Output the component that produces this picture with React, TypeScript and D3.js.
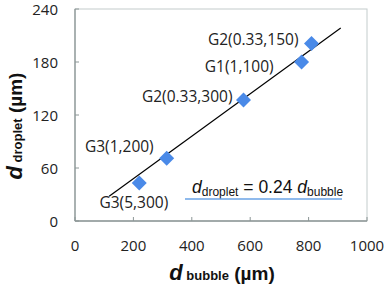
import React from "react";
import * as d3 from "d3";

const labels = ["G2(0.33,150)", "G1(1,100)", "G2(0.33,300)", "G3(1,200)", "G3(5,300)"];
const bubble = [810, 776, 577, 314, 220];
const droplet = [201, 180, 137, 71, 43];
const xTicks = [0, 200, 400, 600, 800, 1000];
const yTicks = [0, 60, 120, 180, 240];
const fitSlope = 0.24;
const fitRange = [117, 910];

const W = 387, H = 287;
const M = { left: 75, right: 367, top: 9, bottom: 221 };

const labelPos: { dx: number; dy: number; anchor: string }[] = [
  { dx: -13, dy: 2, anchor: "end" },
  { dx: -28, dy: 10, anchor: "end" },
  { dx: -11, dy: 2, anchor: "end" },
  { dx: -13, dy: -6, anchor: "end" },
  { dx: 29, dy: 25, anchor: "end" },
];

export default function App() {
  const x = d3.scaleLinear().domain([0, 1000]).range([M.left, M.right]);
  const y = d3.scaleLinear().domain([0, 240]).range([M.bottom, M.top]);
  const line = d3.line<number>().x((d) => x(d)).y((d) => y(fitSlope * d));
  const font = "'Open Sans', sans-serif";
  const sans = "'Liberation Sans', Arial, sans-serif";
  const axisColor = "#8c9696";
  const blue = "#4a8ae8";
  const diamond = (cx: number, cy: number, r: number) =>
    `M${cx},${cy - r}L${cx + r},${cy}L${cx},${cy + r}L${cx - r},${cy}Z`;
  return (
    <div style={{ position: "fixed", left: 0, top: 0 }}>
      <svg width={W} height={H} style={{ display: "block", background: "#fff" }}>
        <rect x={M.left} y={M.top} width={M.right - M.left} height={M.bottom - M.top}
          fill="none" stroke="#c3cccc" strokeWidth={1} />
        <line x1={M.left} x2={M.right} y1={M.bottom} y2={M.bottom} stroke={axisColor} strokeWidth={1.3} />
        <line x1={M.left} x2={M.left} y1={M.top} y2={M.bottom} stroke={axisColor} strokeWidth={1.3} />
        {xTicks.map((t) => (
          <g key={"x" + t}>
            <line x1={x(t)} x2={x(t)} y1={M.bottom} y2={M.bottom - 4} stroke={axisColor} strokeWidth={1} />
            <text x={x(t)} y={251} textAnchor="middle" fontFamily={font} fontSize={15} fill="#222">{t}</text>
          </g>
        ))}
        {yTicks.map((t) => (
          <g key={"y" + t}>
            <line x1={M.left} x2={M.left + 4} y1={y(t)} y2={y(t)} stroke={axisColor} strokeWidth={1} />
            <text x={58} y={y(t) + 5.5} textAnchor="end" fontFamily={font} fontSize={15} fill="#222">{t}</text>
          </g>
        ))}
        <path d={line(fitRange) || ""} stroke="#000" strokeWidth={1.2} fill="none" />
        {bubble.map((b, i) => (
          <path key={"p" + i} d={diamond(x(b), y(droplet[i]), 7.5)} fill={blue} />
        ))}
        {bubble.map((b, i) => (
          <text key={"l" + i} x={x(b) + labelPos[i].dx} y={y(droplet[i]) + labelPos[i].dy}
            textAnchor={labelPos[i].anchor} fontFamily={font} fontSize={15.5} fill="#222">{labels[i]}</text>
        ))}
        <text x={192} y={193} fontFamily={sans} fontSize={17.5} fill="#111">
          <tspan fontStyle="italic">d</tspan>
          <tspan fontSize={12} dy={3}>droplet</tspan>
          <tspan dy={-3}> = 0.24 </tspan>
          <tspan fontStyle="italic">d</tspan>
          <tspan fontSize={12} dy={3}>bubble</tspan>
        </text>
        <line x1={185} x2={342} y1={199} y2={199} stroke="#6aa3e6" strokeWidth={1.5} />
        <text x={222} y={280} textAnchor="middle" fontFamily={sans} fontWeight="bold" fontSize={19} fill="#111">
          <tspan fontStyle="italic" fontSize={22}>d</tspan>
          <tspan fontSize={13}> bubble</tspan>
          <tspan> (µm)</tspan>
        </text>
        <text transform="translate(22,126) rotate(-90)" textAnchor="middle" fontFamily={sans} fontWeight="bold" fontSize={19} fill="#111">
          <tspan fontStyle="italic" fontSize={22}>d</tspan>
          <tspan fontSize={13}> droplet</tspan>
          <tspan> (µm)</tspan>
        </text>
      </svg>
    </div>
  );
}
